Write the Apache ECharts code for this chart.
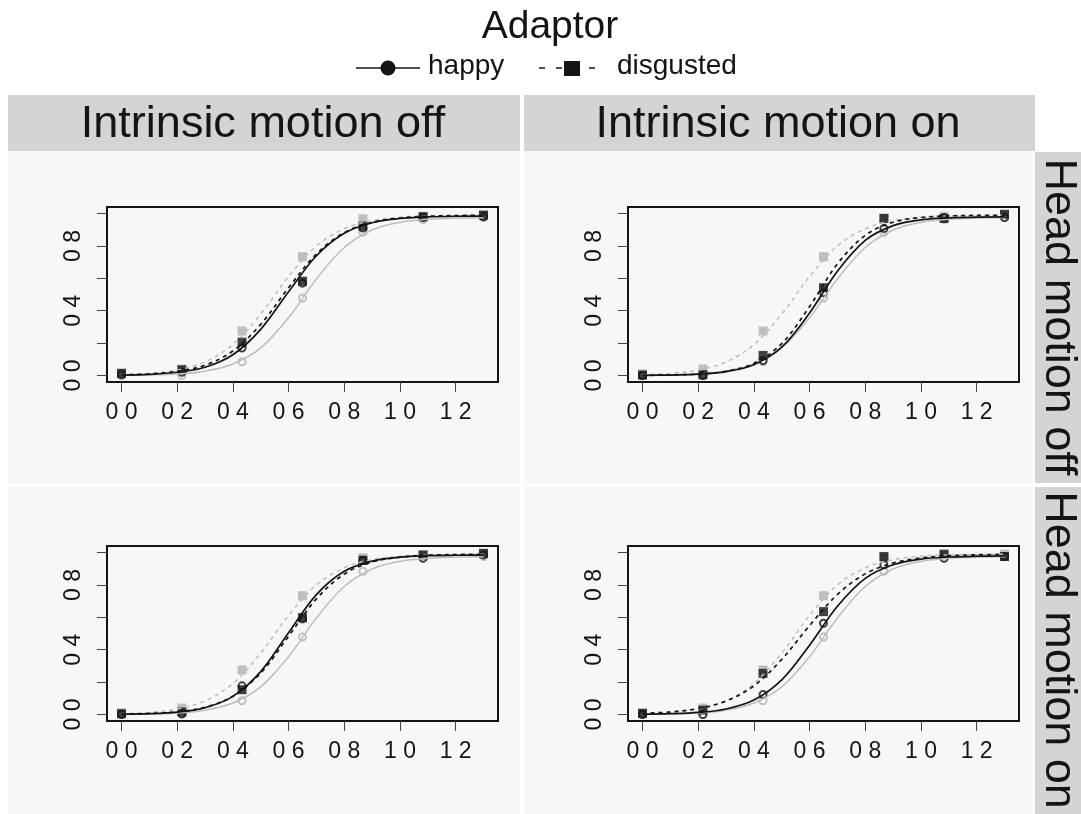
<!DOCTYPE html>
<html>
<head>
<meta charset="utf-8">
<script src="https://cdn.jsdelivr.net/npm/echarts@6/dist/echarts.min.js"></script>
<style>
html, body { margin: 0; padding: 0; background: #fff; }
#main { width: 1081px; height: 814px; }
</style>
</head>
<body>
<div id="main"></div>
<script>
var levels = [0, 0.217, 0.433, 0.65, 0.867, 1.083, 1.3];
var curveX = [0, 0.1, 0.2, 0.3, 0.4, 0.5, 0.6, 0.7, 0.8, 0.9, 1.0, 1.1, 1.2, 1.3];

var xTicks = [0, 0.2, 0.4, 0.6, 0.8, 1.0, 1.2];
var xTickLabels = ['0 0', '0 2', '0 4', '0 6', '0 8', '1 0', '1 2'];
var yTicks = [0, 0.2, 0.4, 0.6, 0.8, 1.0];
var yLabelTicks = [0, 0.4, 0.8];
var yTickLabels = ['0 0', '0 4', '0 8'];

var colNames = ['Intrinsic motion off', 'Intrinsic motion on'];
var rowNames = ['Head motion off', 'Head motion on'];

// grey = baseline, same in every panel
var basePtsSolid = [0.0, 0.0, 0.085, 0.478, 0.884, 0.962, 0.975];
var basePtsDash  = [0.01, 0.04, 0.275, 0.733, 0.967, 0.982, 0.99];
var baseCurveSolid = [0.001, 0.004, 0.010, 0.027, 0.071, 0.171, 0.357, 0.596, 0.790, 0.898, 0.945, 0.964, 0.971, 0.973];
var baseCurveDash  = [0.005, 0.013, 0.034, 0.084, 0.191, 0.379, 0.611, 0.799, 0.906, 0.956, 0.977, 0.985, 0.988, 0.989];

// panels: off/off, off/on(intrinsic), on(head)/off, on/on
var happyPts1 = [0.005, 0.02, 0.17, 0.57, 0.91, 0.975, 0.98];
var happyPts2 = [0.0, 0.0, 0.093, 0.511, 0.907, 0.975, 0.975];
var happyPts3 = [0.0, 0.005, 0.177, 0.59, 0.95, 0.965, 0.985];
var happyPts4 = [0.0, 0.0, 0.124, 0.563, 0.924, 0.965, 0.975];

var disgPts1 = [0.014, 0.035, 0.206, 0.582, 0.922, 0.98, 0.99];
var disgPts2 = [0.003, 0.005, 0.124, 0.542, 0.97, 0.969, 0.995];
var disgPts3 = [0.005, 0.016, 0.153, 0.598, 0.952, 0.985, 0.995];
var disgPts4 = [0.007, 0.027, 0.254, 0.635, 0.975, 0.99, 0.975];

var happyCurve1 = [0.003, 0.007, 0.020, 0.051, 0.128, 0.285, 0.517, 0.739, 0.878, 0.943, 0.969, 0.979, 0.983, 0.984];
var happyCurve2 = [0.001, 0.003, 0.008, 0.024, 0.067, 0.175, 0.386, 0.644, 0.834, 0.925, 0.961, 0.973, 0.978, 0.979];
var happyCurve3 = [0.002, 0.005, 0.015, 0.042, 0.112, 0.265, 0.505, 0.740, 0.884, 0.947, 0.971, 0.980, 0.983, 0.984];
var happyCurve4 = [0.002, 0.005, 0.013, 0.034, 0.089, 0.214, 0.428, 0.668, 0.840, 0.924, 0.959, 0.972, 0.977, 0.979];

var disgCurve1 = [0.004, 0.010, 0.026, 0.064, 0.151, 0.316, 0.542, 0.750, 0.882, 0.945, 0.972, 0.983, 0.987, 0.989];
var disgCurve2 = [0.001, 0.003, 0.009, 0.026, 0.075, 0.197, 0.426, 0.689, 0.865, 0.946, 0.975, 0.985, 0.988, 0.989];
var disgCurve3 = [0.002, 0.006, 0.017, 0.045, 0.113, 0.256, 0.483, 0.714, 0.867, 0.941, 0.971, 0.983, 0.987, 0.989];
var disgCurve4 = [0.007, 0.016, 0.037, 0.083, 0.177, 0.340, 0.549, 0.741, 0.868, 0.935, 0.966, 0.980, 0.986, 0.988];

var happyPts = [happyPts1, happyPts2, happyPts3, happyPts4];
var disgPts = [disgPts1, disgPts2, disgPts3, disgPts4];
var happyCurves = [happyCurve1, happyCurve2, happyCurve3, happyCurve4];
var disgCurves = [disgCurve1, disgCurve2, disgCurve3, disgCurve4];

var FONT = '"Liberation Sans", Arial, Helvetica, sans-serif';
var INK = '#141414';
var GREY_LINE = '#bdbdbd';
var GREY_PT = '#b0b0b0';
var STRIP = '#d4d4d4';
var PANEL = '#f7f7f7';

var boxes = [
  { left: 107, top: 207 },
  { left: 628, top: 207 },
  { left: 107, top: 546 },
  { left: 628, top: 546 }
];

function pairs(xs, ys) {
  return ys.map(function (y, i) { return [xs[i], y]; });
}
function lookup(vals, labels, v) {
  for (var i = 0; i < vals.length; i++) {
    if (Math.abs(vals[i] - v) < 1e-6) return labels[i];
  }
  return '';
}

var grids = [], xAxes = [], yAxes = [], series = [];

boxes.forEach(function (b, p) {
  grids.push({
    left: b.left, top: b.top, width: 391, height: 175,
    show: true, borderColor: INK, borderWidth: 2, backgroundColor: 'transparent'
  });
  xAxes.push({
    type: 'value', gridIndex: p, min: -0.052, max: 1.352,
    splitLine: { show: false },
    axisLine: { show: false, onZero: false },
    axisTick: { show: true, customValues: xTicks, length: 10, lineStyle: { color: '#444', width: 1 } },
    axisLabel: {
      customValues: xTicks, margin: 19, fontSize: 23, fontFamily: FONT, color: INK,
      formatter: function (v) { return lookup(xTicks, xTickLabels, v); }
    }
  });
  yAxes.push({
    type: 'value', gridIndex: p, min: -0.04, max: 1.04,
    splitLine: { show: false },
    axisLine: { show: false, onZero: false },
    axisTick: { show: true, customValues: yTicks, length: 10, lineStyle: { color: '#444', width: 1 } },
    axisLabel: {
      customValues: yLabelTicks, rotate: 90, margin: 22, fontSize: 23, fontFamily: FONT, color: INK,
      formatter: function (v) { return lookup(yLabelTicks, yTickLabels, v); }
    }
  });

  function curve(data, color, dashed, w) {
    series.push({
      type: 'line', xAxisIndex: p, yAxisIndex: p, data: pairs(curveX, data),
      showSymbol: false, smooth: 0.35, silent: true,
      lineStyle: { color: color, width: w, type: dashed ? [4, 4] : 'solid' }
    });
  }
  function points(data, color, sym, size) {
    series.push({
      type: 'scatter', xAxisIndex: p, yAxisIndex: p, data: pairs(levels, data),
      symbol: sym, symbolSize: size, silent: true,
      itemStyle: sym === 'emptyCircle'
        ? { color: color, borderColor: color, borderWidth: 1.8 }
        : { color: color }
    });
  }

  curve(baseCurveSolid, GREY_LINE, false, 1.5);
  curve(baseCurveDash, GREY_LINE, true, 1.5);
  curve(happyCurves[p], INK, false, 1.7);
  curve(disgCurves[p], INK, true, 1.7);
  points(basePtsSolid, GREY_PT, 'emptyCircle', 7);
  points(basePtsDash, GREY_PT, 'rect', 9);
  points(happyPts[p], INK, 'emptyCircle', 7);
  points(disgPts[p], INK, 'rect', 9);
});

// panel frames, strips, title and key
var graphic = [
  { type: 'rect', z: -100, shape: { x: 8, y: 151, width: 512, height: 332 }, style: { fill: PANEL } },
  { type: 'rect', z: -100, shape: { x: 524, y: 151, width: 509, height: 332 }, style: { fill: PANEL } },
  { type: 'rect', z: -100, shape: { x: 8, y: 487, width: 512, height: 327 }, style: { fill: PANEL } },
  { type: 'rect', z: -100, shape: { x: 524, y: 487, width: 509, height: 327 }, style: { fill: PANEL } },
  { type: 'rect', z: -100, shape: { x: 8, y: 95, width: 512, height: 56 }, style: { fill: STRIP } },
  { type: 'rect', z: -100, shape: { x: 524, y: 95, width: 511, height: 56 }, style: { fill: STRIP } },
  { type: 'rect', z: -100, shape: { x: 1035, y: 152, width: 46, height: 331 }, style: { fill: STRIP } },
  { type: 'rect', z: -100, shape: { x: 1035, y: 487, width: 46, height: 327 }, style: { fill: STRIP } },
  { type: 'text', x: 263, y: 125, style: { text: colNames[0], font: '45px ' + FONT, fill: INK, align: 'center', verticalAlign: 'middle' } },
  { type: 'text', x: 778, y: 125, style: { text: colNames[1], font: '45px ' + FONT, fill: INK, align: 'center', verticalAlign: 'middle' } },
  { type: 'text', x: 1058, y: 317, rotation: -Math.PI / 2, style: { text: rowNames[0], font: '45px ' + FONT, fill: INK, align: 'center', verticalAlign: 'middle' } },
  { type: 'text', x: 1058, y: 650, rotation: -Math.PI / 2, style: { text: rowNames[1], font: '45px ' + FONT, fill: INK, align: 'center', verticalAlign: 'middle' } },
  { type: 'text', x: 550, y: 27, style: { text: 'Adaptor', font: '39px ' + FONT, fill: INK, align: 'center', verticalAlign: 'middle' } },
  { type: 'line', shape: { x1: 356, y1: 68, x2: 420, y2: 68 }, style: { stroke: INK, lineWidth: 1.5 } },
  { type: 'circle', shape: { cx: 388, cy: 68, r: 7.5 }, style: { fill: INK } },
  { type: 'text', x: 428, y: 66, style: { text: 'happy', font: '28px ' + FONT, fill: INK, align: 'left', verticalAlign: 'middle' } },
  { type: 'line', shape: { x1: 539, y1: 68, x2: 545, y2: 68 }, style: { stroke: INK, lineWidth: 1.5 } },
  { type: 'line', shape: { x1: 556, y1: 68, x2: 562, y2: 68 }, style: { stroke: INK, lineWidth: 1.5 } },
  { type: 'rect', shape: { x: 564, y: 61, width: 16, height: 15 }, style: { fill: INK } },
  { type: 'line', shape: { x1: 589, y1: 68, x2: 595, y2: 68 }, style: { stroke: INK, lineWidth: 1.5 } },
  { type: 'text', x: 617, y: 66, style: { text: 'disgusted', font: '28px ' + FONT, fill: INK, align: 'left', verticalAlign: 'middle' } }
];

var chart = echarts.init(document.getElementById('main'), null, { renderer: 'canvas' });
chart.setOption({
  backgroundColor: '#ffffff',
  animation: false,
  textStyle: { fontFamily: FONT },
  grid: grids,
  xAxis: xAxes,
  yAxis: yAxes,
  series: series,
  graphic: graphic
});
</script>
</body>
</html>
